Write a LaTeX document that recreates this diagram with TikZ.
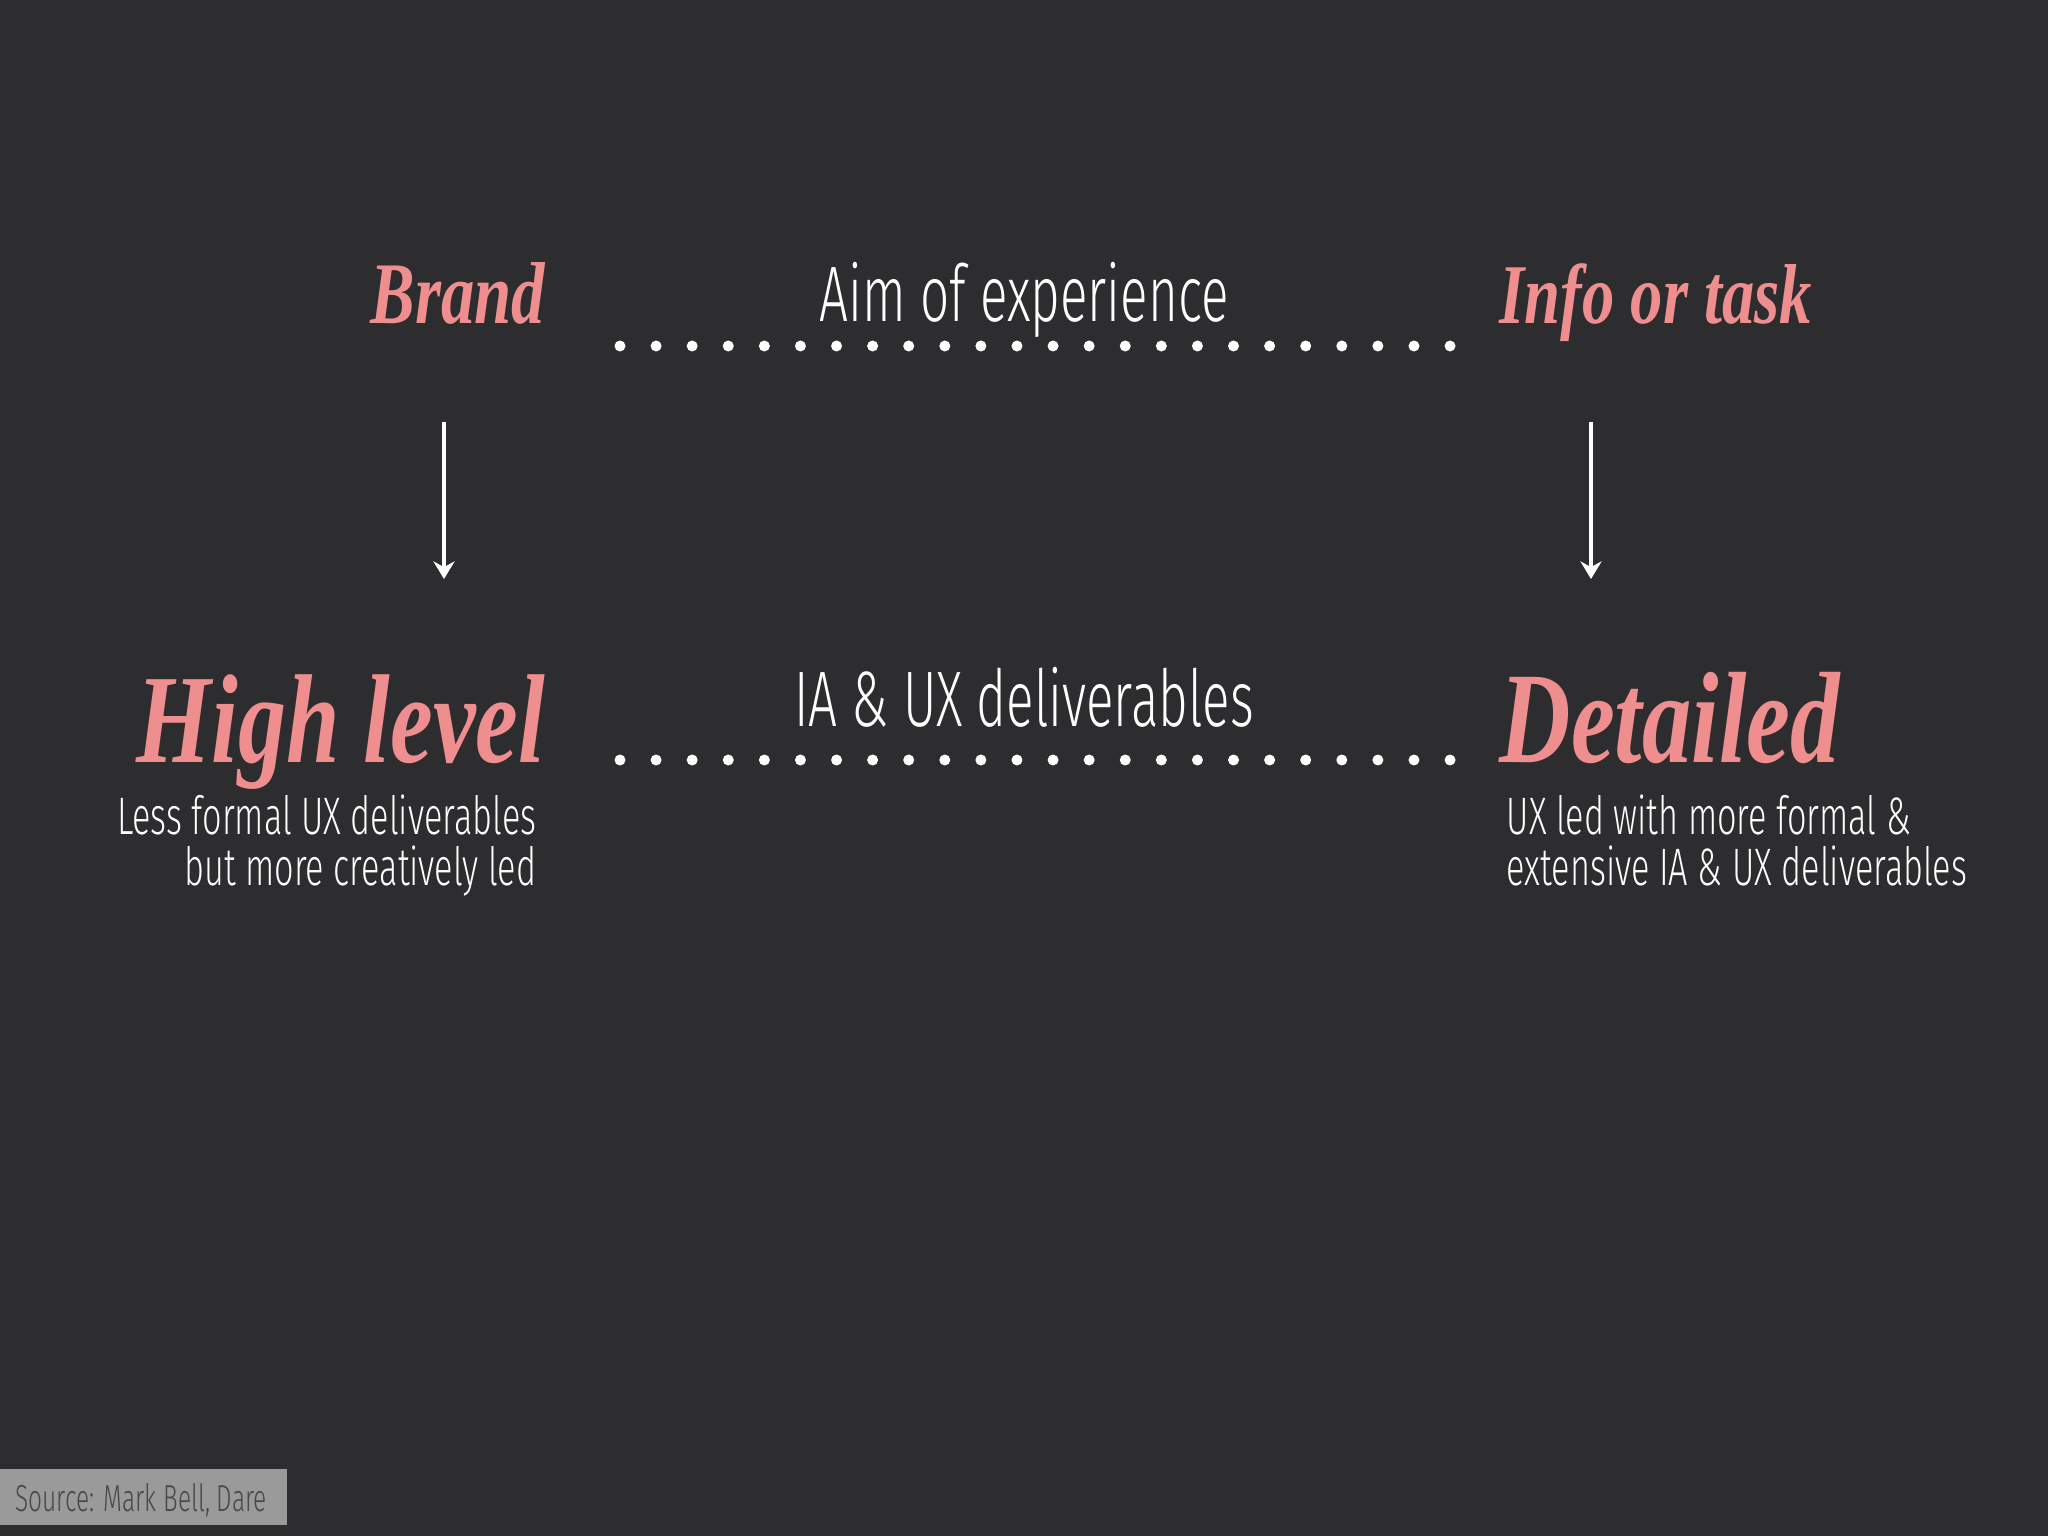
\documentclass[tikz,border=0pt]{standalone}
\usepackage{fontspec}
\setmainfont{Fira Sans Light}[FakeStretch=0.65]
\newfontfamily\cursivefont{Liberation Serif}[FakeStretch=0.76]
\usetikzlibrary{arrows.meta}
\definecolor{slidebg}{HTML}{2D2C2E}
\definecolor{salmon}{HTML}{EE8E8E}
\definecolor{tagbg}{HTML}{9A9A9B}
\definecolor{tagtext}{HTML}{48484A}
\tikzset{
  pinklabel/.style={text=salmon, inner sep=0pt},
  whitelabel/.style={text=white, inner sep=0pt},
  downarrow/.style={white, line width=1.1pt, -{Stealth[length=5pt,width=6pt]}},
}

\begin{document}
\begin{tikzpicture}
        \fill[slidebg] (0,0) rectangle (20.48,-15.36);
        \useasboundingbox (0,0) rectangle (20.48,-15.36);

        \node[pinklabel, anchor=base east, font=\cursivefont\bfseries\itshape\fontsize{25}{25}\selectfont] (brand) at (5.46,-3.24) {Brand};
        \node[whitelabel, anchor=base, font=\fontsize{22.4}{22.4}\selectfont] (aim) at (10.24,-3.22) {Aim of experience};
        \node[pinklabel, anchor=base west, font=\cursivefont\bfseries\itshape\fontsize{24.2}{24.2}\selectfont] (info) at (14.99,-3.24) {Info or task};

        \foreach \i in {0,...,23} \fill[white] (6.20+\i*0.3609,-3.46) circle (0.055);

        \coordinate (bstart) at (4.44,-4.22);
        \coordinate (bend) at (4.44,-5.79);
        \coordinate (istart) at (15.91,-4.22);
        \coordinate (iend) at (15.91,-5.79);
        \draw[downarrow] (bstart) to (bend);
        \draw[downarrow] (istart) to (iend);

        \node[pinklabel, anchor=base east, font=\cursivefont\bfseries\itshape\fontsize{36}{36}\selectfont] (high) at (5.46,-7.62) {High level};
        \node[whitelabel, anchor=base, font=\fontsize{22.4}{22.4}\selectfont] (ia) at (10.24,-7.27) {IA \& UX deliverables};
        \node[pinklabel, anchor=base west, font=\cursivefont\bfseries\itshape\fontsize{37}{37}\selectfont] (detailed) at (14.99,-7.62) {Detailed};

        \foreach \i in {0,...,23} \fill[white] (6.20+\i*0.3609,-7.60) circle (0.055);

        \node[whitelabel, anchor=north east, align=right, font=\fontsize{15}{14.6}\selectfont] (highnote) at (5.37,-7.94) {Less formal UX deliverables\\but more creatively led};
        \node[whitelabel, anchor=north west, align=left, font=\fontsize{15}{14.6}\selectfont] (detnote) at (15.06,-7.94) {UX led with more formal \&\\extensive IA \& UX deliverables};

        \fill[tagbg] (0,-14.69) rectangle (2.87,-15.25);
        \node[text=tagtext, anchor=base west, inner sep=0pt, font=\fontsize{10.7}{10.7}\selectfont] (source) at (0.15,-15.11) {Source: Mark Bell, Dare};
    \end{tikzpicture}
\end{document}
